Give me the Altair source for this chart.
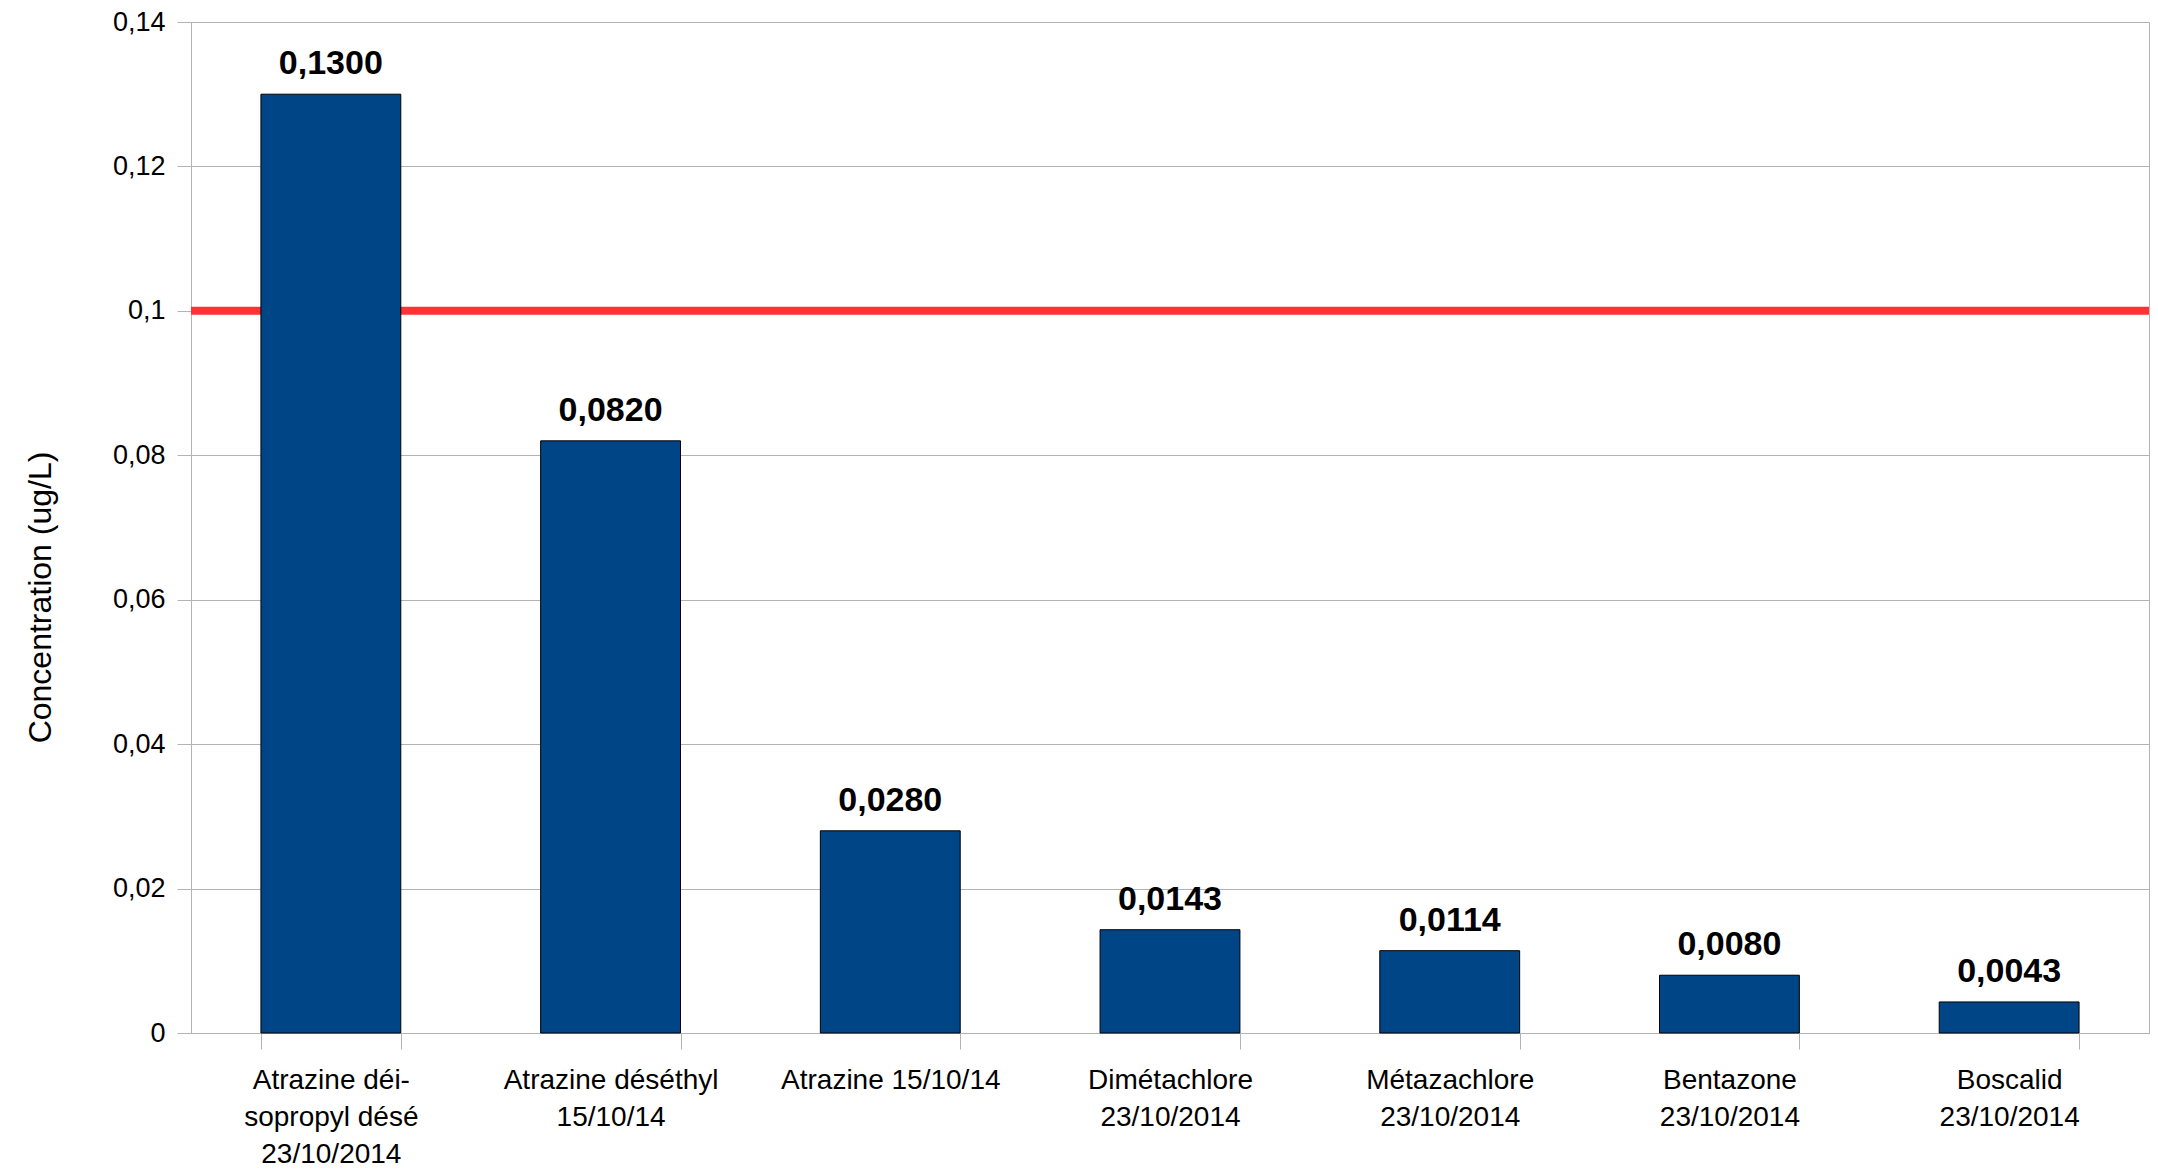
import altair as alt
import pandas as pd

# ---- data ----
label_lines = [
    ["Atrazine déi-", "sopropyl désé", "23/10/2014"],
    ["Atrazine déséthyl", "15/10/14"],
    ["Atrazine 15/10/14"],
    ["Dimétachlore", "23/10/2014"],
    ["Métazachlore", "23/10/2014"],
    ["Bentazone", "23/10/2014"],
    ["Boscalid", "23/10/2014"],
]
values = [0.1300, 0.0820, 0.0280, 0.0143, 0.0114, 0.0080, 0.0043]
threshold = [0.1]
y_ticks = [0, 0.02, 0.04, 0.06, 0.08, 0.1, 0.12, 0.14]
y_title = "Concentration (ug/L)"

categories = ["\n".join(lines) for lines in label_lines]
df = pd.DataFrame({"cat": categories, "value": values})
thr = pd.DataFrame({"limit": threshold})

FONT = "Liberation Sans"

y_scale = alt.Scale(domain=[0, 0.14], nice=False, zero=True)
y_axis = alt.Axis(
    values=y_ticks,
    labelExpr="replace(format(datum.value, '.2~f'), '.', ',')",
    labelFontSize=27,
    tickSize=14,
    labelPadding=12,
    titleFontSize=32,
    titleFontWeight="normal",
    titleAngle=270,
    titleX=-141,
    titleY=575,
    titleAlign="center",
    titleBaseline="alphabetic",
    grid=True,
)

x_enc = alt.X(
    "cat:N",
    sort=None,
    title=None,
    scale=alt.Scale(paddingInner=0.5, paddingOuter=0.25),
    axis=alt.Axis(
        labelExpr="split(datum.label, '\\n')",
        labelAngle=0,
        labelAlign="center",
        labelBaseline="top",
        labelFontSize=28,
        labelLineHeight=37,
        labelPadding=17,
        labelLimit=400,
        labelOverlap=False,
        tickBand="extent",
        tickSize=16,
        grid=False,
    ),
)

rule = alt.Chart(thr).mark_rule(color="#ff3333", strokeWidth=8).encode(
    y=alt.Y("limit:Q", title=y_title, scale=y_scale, axis=y_axis)
)

bars = alt.Chart(df).mark_bar(color="#004586", stroke="#000000", strokeWidth=1).encode(
    x=x_enc,
    y=alt.Y("value:Q", title=y_title, scale=y_scale, axis=y_axis),
)

text = (
    alt.Chart(df)
    .transform_calculate(lbl="replace(format(datum.value, '.4f'), '.', ',')")
    .mark_text(fontSize=34, fontWeight="bold", baseline="alphabetic", dy=-20, color="#000000", font=FONT)
    .encode(
        x=x_enc,
        y=alt.Y("value:Q", title=y_title, scale=y_scale, axis=y_axis),
        text="lbl:N",
    )
)

chart = (
    alt.layer(rule, bars, text)
    .properties(
        width=1958,
        height=1011,
        padding={"left": 183, "top": 14, "right": 1, "bottom": 140},
        autosize=alt.AutoSizeParams(type="none"),
    )
    .configure_view(stroke="#b3b3b3", strokeWidth=1)
    .configure_axis(
        domainColor="#b3b3b3",
        tickColor="#b3b3b3",
        gridColor="#b3b3b3",
        gridWidth=1,
        domainWidth=1,
        tickWidth=1,
        labelFont=FONT,
        titleFont=FONT,
        labelColor="#000000",
        titleColor="#000000",
    )
    .configure_text(font=FONT)
)

chart.save("out.html", embed_options={"renderer": "svg", "actions": False})
